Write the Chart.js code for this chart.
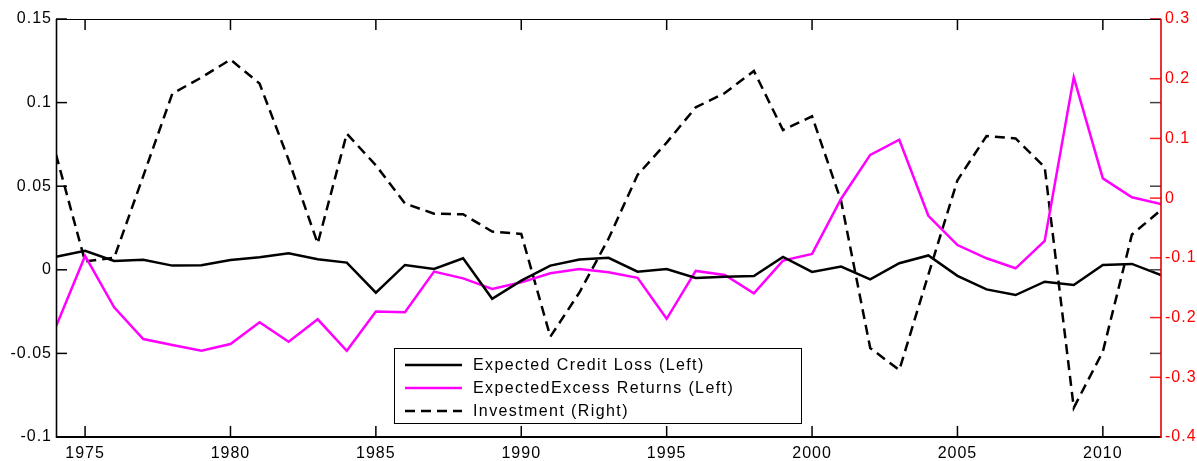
<!DOCTYPE html>
<html>
<head>
<meta charset="utf-8">
<script src="https://cdn.jsdelivr.net/npm/chart.js@4.4.1/dist/chart.umd.min.js"></script>
<style>
  html, body { margin: 0; padding: 0; background: #fff; }
  #wrap { width: 1197px; height: 461px; }
</style>
</head>
<body>
<div id="wrap"><canvas id="c" width="1197" height="461"></canvas></div>
<script>
const years = [1974,1975,1976,1977,1978,1979,1980,1981,1982,1983,1984,1985,1986,1987,1988,1989,1990,1991,1992,1993,1994,1995,1996,1997,1998,1999,2000,2001,2002,2003,2004,2005,2006,2007,2008,2009,2010,2011,2012];

const creditLoss = [0.0078,0.0114,0.0053,0.0060,0.0025,0.0027,0.0059,0.0075,0.0099,0.0063,0.0043,-0.0137,0.0029,0.0005,0.0069,-0.0173,-0.0065,0.0025,0.0062,0.0072,-0.0011,0.0005,-0.0049,-0.0041,-0.0037,0.0077,-0.0013,0.0019,-0.0057,0.0039,0.0086,-0.0036,-0.0117,-0.0151,-0.0071,-0.0091,0.0029,0.0035,-0.0031];

const excessReturns = [-0.0340,0.0083,-0.0224,-0.0414,-0.0450,-0.0484,-0.0444,-0.0314,-0.0430,-0.0296,-0.0484,-0.0250,-0.0254,-0.0011,-0.0051,-0.0115,-0.0075,-0.0021,0.0005,-0.0015,-0.0048,-0.0293,-0.0007,-0.0031,-0.0141,0.0055,0.0095,0.0425,0.0687,0.0778,0.0323,0.0148,0.0069,0.0009,0.0173,0.1151,0.0547,0.0434,0.0393];

const investment = [0.073,-0.106,-0.100,0.037,0.175,0.202,0.232,0.192,0.064,-0.076,0.108,0.055,-0.009,-0.026,-0.027,-0.056,-0.060,-0.232,-0.158,-0.068,0.039,0.093,0.152,0.176,0.213,0.114,0.137,-0.005,-0.251,-0.288,-0.128,0.030,0.104,0.100,0.052,-0.351,-0.257,-0.061,-0.020];

const seriesLabels = ['Expected Credit Loss (Left)', 'ExpectedExcess Returns (Left)', 'Investment (Right)'];

const xTicks = [1975,1980,1985,1990,1995,2000,2005,2010];
const xTickLabels = ['1975','1980','1985','1990','1995','2000','2005','2010'];
const leftTicks = [-0.1,-0.05,0,0.05,0.1,0.15];
const leftTickLabels = ['-0.1','-0.05','0','0.05','0.1','0.15'];
const rightTicks = [-0.4,-0.3,-0.2,-0.1,0,0.1,0.2,0.3];
const rightTickLabels = ['-0.4','-0.3','-0.2','-0.1','0','0.1','0.2','0.3'];

const FONT = "'Liberation Sans', Arial, Helvetica, sans-serif";

function pts(arr) { return years.map((yr, i) => ({ x: yr, y: arr[i] })); }

const frameAndTicks = {
  id: 'frameAndTicks',
  beforeDraw(chart) {
    chart.ctx.letterSpacing = '1px';
  },
  afterDraw(chart) {
    const ctx = chart.ctx;
    const a = chart.chartArea;
    const sx = chart.scales.x, sy = chart.scales.y, sy2 = chart.scales.y2;
    const TL = 11;
    ctx.save();
    ctx.setLineDash([]);
    ctx.lineWidth = 1.5;
    // left axis ticks (left edge + mirrored on right edge)
    leftTicks.forEach(v => {
      const p = sy.getPixelForValue(v);
      ctx.strokeStyle = '#000';
      ctx.beginPath(); ctx.moveTo(a.left, p); ctx.lineTo(a.left + TL, p); ctx.stroke();
      ctx.strokeStyle = '#444';
      ctx.beginPath(); ctx.moveTo(a.right, p); ctx.lineTo(a.right - TL, p); ctx.stroke();
    });
    // x ticks bottom & top
    ctx.strokeStyle = '#000';
    xTicks.forEach(v => {
      const p = sx.getPixelForValue(v);
      ctx.beginPath(); ctx.moveTo(p, a.bottom); ctx.lineTo(p, a.bottom - TL); ctx.stroke();
      ctx.beginPath(); ctx.moveTo(p, a.top); ctx.lineTo(p, a.top + TL); ctx.stroke();
    });
    // right axis ticks (red)
    ctx.strokeStyle = '#ff2020';
    rightTicks.forEach(v => {
      const p = sy2.getPixelForValue(v);
      ctx.beginPath(); ctx.moveTo(a.right, p); ctx.lineTo(a.right - TL, p); ctx.stroke();
    });
    // frame
    ctx.strokeStyle = '#000';
    ctx.lineWidth = 1.2;
    ctx.beginPath(); ctx.moveTo(a.left, a.top + 0.5); ctx.lineTo(a.right, a.top + 0.5); ctx.stroke();
    ctx.lineWidth = 2;
    ctx.beginPath(); ctx.moveTo(a.left, a.bottom); ctx.lineTo(a.right, a.bottom); ctx.stroke();
    ctx.lineWidth = 1.6;
    ctx.beginPath(); ctx.moveTo(a.left + 0.5, a.top); ctx.lineTo(a.left + 0.5, a.bottom + 1); ctx.stroke();
    ctx.strokeStyle = '#e00000';
    ctx.beginPath(); ctx.moveTo(a.right, a.top); ctx.lineTo(a.right, a.bottom + 1); ctx.stroke();
    ctx.restore();

    // legend
    ctx.save();
    const bx = 394.5, by = 348.5, bw = 407, bh = 75;
    ctx.fillStyle = '#fff';
    ctx.fillRect(bx, by, bw, bh);
    ctx.strokeStyle = '#000';
    ctx.lineWidth = 1;
    ctx.setLineDash([]);
    ctx.strokeRect(bx, by, bw, bh);
    ctx.font = '16px ' + FONT;
    ctx.letterSpacing = '1.4px';
    ctx.textBaseline = 'middle';
    ctx.textAlign = 'left';
    const rows = [365, 388, 411];
    chart.data.datasets.forEach((ds, i) => {
      const y = rows[i];
      ctx.strokeStyle = ds.borderColor;
      ctx.lineWidth = 2.5;
      ctx.setLineDash(ds.borderDash || []);
      ctx.beginPath(); ctx.moveTo(405, y); ctx.lineTo(462, y); ctx.stroke();
      ctx.setLineDash([]);
      ctx.fillStyle = '#000';
      ctx.fillText(ds.label, 473, y + 1);
    });
    ctx.restore();
  }
};

const tickFont = { size: 16, family: FONT };

new Chart(document.getElementById('c'), {
  type: 'line',
  data: {
    datasets: [
      { label: seriesLabels[0], data: pts(creditLoss), yAxisID: 'y', borderColor: '#000000', borderWidth: 2.5, pointRadius: 0, tension: 0 },
      { label: seriesLabels[1], data: pts(excessReturns), yAxisID: 'y', borderColor: '#ff00ff', borderWidth: 2.5, pointRadius: 0, tension: 0 },
      { label: seriesLabels[2], data: pts(investment), yAxisID: 'y2', borderColor: '#000000', borderWidth: 2.5, borderDash: [10, 6], pointRadius: 0, tension: 0 }
    ]
  },
  options: {
    responsive: false,
    animation: false,
    events: [],
    layout: { padding: { top: 19, left: 0, right: 0, bottom: 0 } },
    plugins: { legend: { display: false }, tooltip: { enabled: false } },
    scales: {
      x: {
        type: 'linear', min: 1974, max: 2012,
        grid: { display: false, drawTicks: false }, border: { display: false },
        afterBuildTicks: s => { s.ticks = xTicks.map(v => ({ value: v })); },
        afterFit: s => { s.height = 24; },
        ticks: { autoSkip: false, maxRotation: 0, padding: 7, color: '#000', font: tickFont,
          callback: (v, i) => xTickLabels[i] }
      },
      y: {
        position: 'left', min: -0.1, max: 0.15,
        grid: { display: false, drawTicks: false }, border: { display: false },
        afterBuildTicks: s => { s.ticks = leftTicks.map(v => ({ value: v })); },
        afterFit: s => { s.width = 56; },
        ticks: { autoSkip: false, padding: 4, color: '#000', font: tickFont,
          callback: (v, i) => leftTickLabels[i] }
      },
      y2: {
        position: 'right', min: -0.4, max: 0.3,
        grid: { display: false, drawTicks: false }, border: { display: false },
        afterBuildTicks: s => { s.ticks = rightTicks.map(v => ({ value: v })); },
        afterFit: s => { s.width = 36; },
        ticks: { autoSkip: false, padding: 4, color: '#ff0000', font: tickFont,
          callback: (v, i) => rightTickLabels[i] }
      }
    }
  },
  plugins: [frameAndTicks]
});
</script>
</body>
</html>
